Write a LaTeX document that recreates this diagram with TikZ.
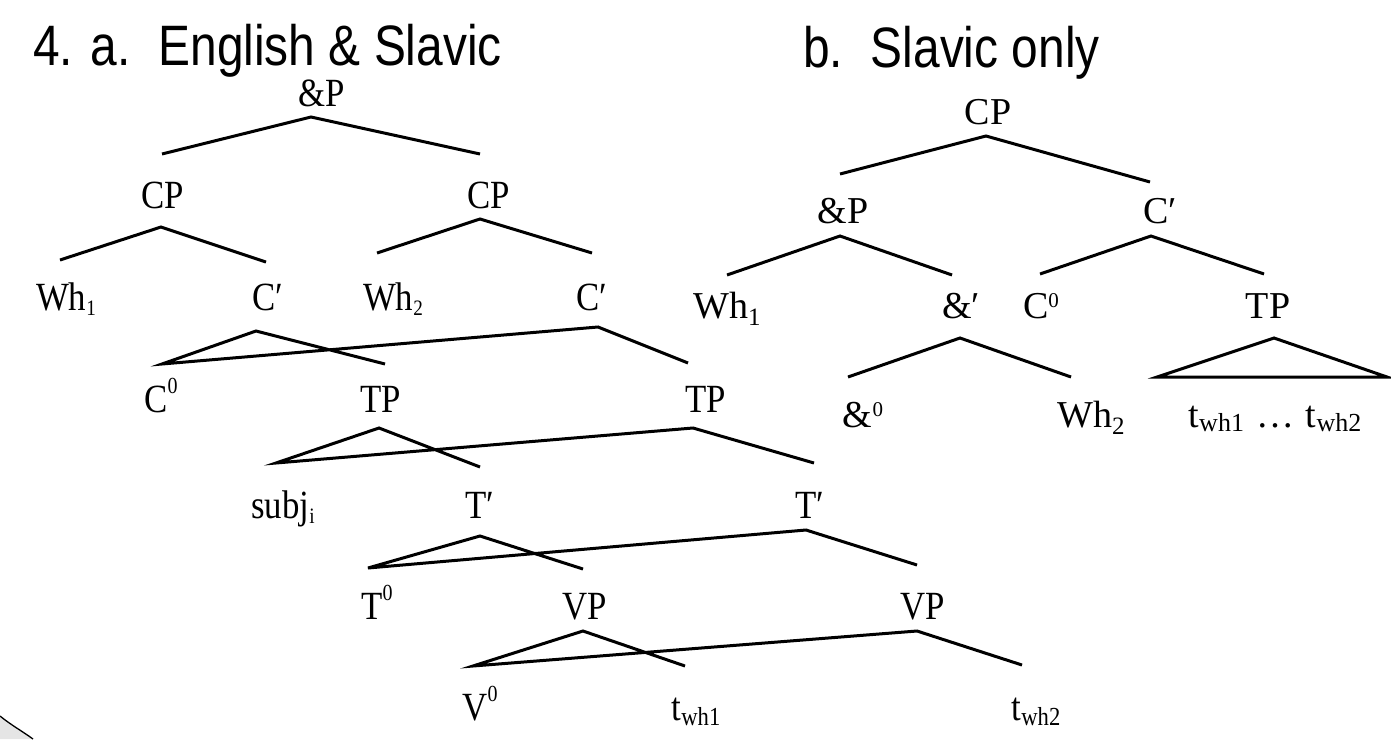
\documentclass[tikz,border=0pt]{standalone}
\usepackage{fontspec}
\setmainfont{Liberation Serif}
\newfontfamily\titlefont{Liberation Sans}
\newcommand\tA{\fontsize{40}{44}\selectfont}
\newcommand\tB{\fontsize{38}{44}\selectfont}
\newcommand\sqA[1]{\scalebox{0.87}[1]{#1}}
\newcommand\supA[1]{\raisebox{19pt}{\fontsize{23}{23}\selectfont #1}}
\newcommand\subA[2]{\raisebox{-#1pt}{\fontsize{22}{22}\selectfont #2}}
\newcommand\subAt[1]{\raisebox{-5pt}{\fontsize{26}{26}\selectfont #1}}
\newcommand\supB[1]{\raisebox{11pt}{\fontsize{21}{21}\selectfont #1}}
\newcommand\subB[1]{\raisebox{-7pt}{\fontsize{25}{25}\selectfont #1}}
\newcommand\subBt[1]{\raisebox{-4pt}{\fontsize{26}{26}\selectfont #1}}
\newcommand\ttl[1]{\scalebox{0.84}[1]{\titlefont\fontsize{57}{60}\selectfont #1}}
\tikzset{
  lab/.style={inner sep=0pt, anchor=base},
  labA/.style={lab, font=\tA},
  labB/.style={lab, font=\tB},
  titlebox/.style={inner sep=0pt, anchor=base west},
  br/.style={line width=3pt, line cap=butt, line join=miter},
}
\begin{document}
\begin{tikzpicture}[x=1pt,y=-1pt]
\useasboundingbox (0,0) rectangle (1391,739);
\fill[white] (0,0) rectangle (1391,739);
% titles
\node[titlebox] (ttlA) at (33,65) {\ttl{4. a.\hspace{33pt}English \& Slavic}};
\node[titlebox] (ttlB) at (803,67) {\ttl{b.\hspace{33pt}Slavic only}};
% ---------- tree a labels
\node[labA] (aP)   at (322,106) {\sqA{\&P}};
\node[labA] (cpL)  at (163,208) {\sqA{CP}};
\node[labA] (cpR)  at (489,208) {\sqA{CP}};
\node[labA] (wh1)  at (66,310)  {\sqA{Wh\subA{5}{1}}};
\node[labA] (cbL)  at (268,310) {\sqA{C′}};
\node[labA] (wh2)  at (393,310) {\sqA{Wh\subA{5}{2}}};
\node[labA] (cbR)  at (592,310) {\sqA{C′}};
\node[labA] (c0)   at (161,412) {\sqA{C\supA{0}}};
\node[labA] (tpL)  at (381,412) {\sqA{TP}};
\node[labA] (tpR)  at (706,412) {\sqA{TP}};
\node[labA] (subj) at (283,518) {\sqA{subj\subA{5}{i}}};
\node[labA] (tbL)  at (480,518) {\sqA{T′}};
\node[labA] (tbR)  at (810,518) {\sqA{T′}};
\node[labA] (t0)   at (377,619) {\sqA{T\supA{0}}};
\node[labA] (vpL)  at (585,619) {\sqA{VP}};
\node[labA] (vpR)  at (923,619) {\sqA{VP}};
\node[labA] (v0)   at (480,720) {\sqA{V\supA{0}}};
\node[labA] (tw1)  at (696,720) {\sqA{t\subAt{wh1}}};
\node[labA] (tw2)  at (1036,720) {\sqA{t\subAt{wh2}}};
% ---------- tree a branch points
\coordinate (aPa) at (311,117);
\coordinate (aPl) at (162,154);
\coordinate (aPr) at (480,154);
\coordinate (cpLa) at (161,227);
\coordinate (cpLl) at (60,260);
\coordinate (cpLr) at (266,262);
\coordinate (cpRa) at (480,219);
\coordinate (cpRl) at (377,253);
\coordinate (cpRr) at (592,253);
\coordinate (cbLa) at (256,331);
\coordinate (c0t)  at (162,364);
\coordinate (cbLr) at (385,364);
\coordinate (cbRa) at (598,327);
\coordinate (cbRr) at (688,363);
\coordinate (tpLa) at (379,428);
\coordinate (subjt) at (276,463);
\coordinate (tpLr) at (480,467);
\coordinate (tpRa) at (693,428);
\coordinate (tpRr) at (814,463);
\coordinate (tbLa) at (480,536);
\coordinate (t0t)  at (368,568);
\coordinate (tbLr) at (583,569);
\coordinate (tbRa) at (806,530);
\coordinate (tbRr) at (917,565);
\coordinate (vpLa) at (583,631);
\coordinate (v0t)  at (473,666);
\coordinate (vpLr) at (685,666);
\coordinate (vpRa) at (917,631);
\coordinate (vpRr) at (1022,665);
\draw[br] (aPl) -- (aPa) -- (aPr);
\draw[br] (cpLl) -- (cpLa) -- (cpLr);
\draw[br] (cpRl) -- (cpRa) -- (cpRr);
\draw[br] (cbLr) -- (cbLa) -- (c0t) -- (cbRa) -- (cbRr);
\draw[br] (tpLr) -- (tpLa) -- (subjt) -- (tpRa) -- (tpRr);
\draw[br] (tbLr) -- (tbLa) -- (t0t) -- (tbRa) -- (tbRr);
\draw[br] (vpLr) -- (vpLa) -- (v0t) -- (vpRa) -- (vpRr);
% ---------- tree b labels
\node[labB] (bCP)  at (988,124)  {CP};
\node[labB] (bAP)  at (843,223)  {\&P};
\node[labB] (bCb)  at (1160,223) {C′};
\node[labB] (bWh1) at (727,318)  {Wh\subB{1}};
\node[labB] (bAb)  at (961,318)  {\&′};
\node[labB] (bC0)  at (1041,318) {C\supB{0}};
\node[labB] (bTP)  at (1268,318) {TP};
\node[labB] (bA0)  at (863,427)  {\&\supB{0}};
\node[labB] (bWh2) at (1091,427) {Wh\subB{2}};
\node[labB] (bTr)  at (1275,427) {t\subBt{wh1}\hspace{12pt}…\hspace{12pt}t\subBt{wh2}};
% ---------- tree b branch points
\coordinate (bCPa) at (986,136);
\coordinate (bCPl) at (840,174);
\coordinate (bCPr) at (1150,182);
\coordinate (bAPa) at (840,236);
\coordinate (bAPl) at (727,275);
\coordinate (bAPr) at (952,275);
\coordinate (bCba) at (1151,236);
\coordinate (bCbl) at (1040,274);
\coordinate (bCbr) at (1264,274);
\coordinate (bAba) at (960,338);
\coordinate (bAbl) at (848,377);
\coordinate (bAbr) at (1071,377);
\coordinate (bTPa) at (1274,338);
\coordinate (bTPl) at (1157,377);
\coordinate (bTPr) at (1387,377);
\draw[br] (bCPl) -- (bCPa) -- (bCPr);
\draw[br] (bAPl) -- (bAPa) -- (bAPr);
\draw[br] (bCbl) -- (bCba) -- (bCbr);
\draw[br] (bAbl) -- (bAba) -- (bAbr);
\draw[br] (bTPa) -- (bTPl) -- (bTPr) -- cycle;
% ---------- corner arc
\fill[black!10] (0,716) .. controls (11,725) and (22,731) .. (33,739) -- (0,739) -- cycle;
\draw[line width=1.3pt] (0,716) .. controls (11,725) and (22,731) .. (33,739);
\end{tikzpicture}
\end{document}
